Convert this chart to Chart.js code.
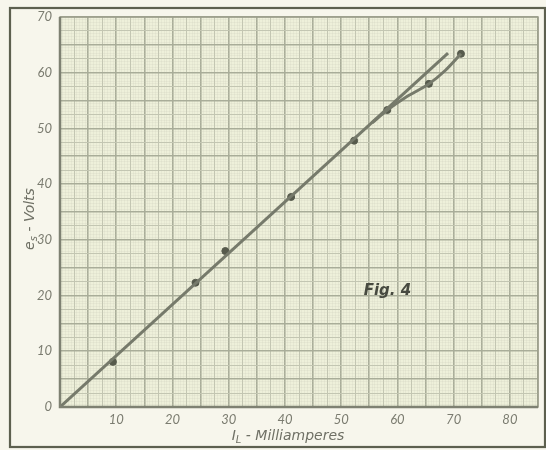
<!DOCTYPE html>
<html>
<head>
<meta charset="utf-8">
<script src="https://cdn.jsdelivr.net/npm/chart.js@4/dist/chart.umd.min.js"></script>
<style>
html,body{margin:0;padding:0;background:#f7f6ec;}
#wrap{width:546px;height:450px;position:relative;}
</style>
</head>
<body>
<div id="wrap"><canvas id="c" width="546" height="450"></canvas></div>
<script>
// Measured points (I_L mA, e_s V)
const pointX = [9.4, 24.1, 29.4, 41.1, 52.3, 58.2, 65.6, 71.3];
const pointY = [8.1, 22.3, 28.0, 37.7, 47.8, 53.3, 58.0, 63.4];
// Straight reference line
const lineX = [0, 69];
const lineY = [0, 63.5];
// Lower curved branch
const branchX = [55.5, 58.2, 61.5, 65.6, 68.5, 71.3];
const branchY = [51.0, 53.3, 55.6, 58.0, 60.4, 63.4];
const xTickLabels = [10, 20, 30, 40, 50, 60, 70, 80];
const yTickLabels = [0, 10, 20, 30, 40, 50, 60, 70];
const xTitle = ['I', 'L', ' - Milliamperes'];
const yTitle = ['e', 's', ' - Volts'];
const figLabel = 'Fig. 4';

const toXY = (xs, ys) => xs.map((x, i) => ({x: x, y: ys[i]}));

const gridColor = (ctx) => {
  const v = ctx.tick ? ctx.tick.value : 0;
  if (Math.abs(v % 5) < 1e-6) return '#a9ad99';
  if (Math.abs(v % 2.5) < 1e-6) return '#c3c6b2';
  return 'rgba(200,202,185,0.2)';
};
const gridWidth = (ctx) => {
  const v = ctx.tick ? ctx.tick.value : 0;
  if (Math.abs(v % 5) < 1e-6) return 1.6;
  return 1;
};

function drawSubTitle(c, parts, cx, cy, size) {
  const main = 'italic ' + size + 'px "DejaVu Sans", sans-serif';
  const sub = 'italic ' + Math.round(size * 0.7) + 'px "DejaVu Sans", sans-serif';
  c.font = main; const w0 = c.measureText(parts[0]).width;
  c.font = sub; const w1 = c.measureText(parts[1]).width;
  c.font = main; const w2 = c.measureText(parts[2]).width;
  let x = cx - (w0 + w1 + w2) / 2;
  c.textBaseline = 'middle';
  c.textAlign = 'left';
  c.font = main; c.fillText(parts[0], x, cy); x += w0;
  c.font = sub; c.fillText(parts[1], x, cy + size * 0.3); x += w1;
  c.font = main; c.fillText(parts[2], x, cy);
}

const bgPlugin = {
  id: 'bg',
  beforeDraw(chart) {
    const c = chart.ctx, a = chart.chartArea;
    c.save();
    c.fillStyle = '#f7f6ec';
    c.fillRect(0, 0, chart.width, chart.height);
    c.fillStyle = '#eef0da';
    c.fillRect(a.left, a.top, a.right - a.left, a.bottom - a.top);
    c.strokeStyle = '#5d604f';
    c.lineWidth = 2.2;
    c.strokeRect(10, 8, 535, 439);
    c.restore();
  },
  afterDatasetsDraw(chart) {
    const c = chart.ctx, a = chart.chartArea;
    c.save();
    c.strokeStyle = '#9a9d8a';
    c.lineWidth = 1.5;
    c.strokeRect(a.left, a.top, a.right - a.left, a.bottom - a.top);
    c.strokeStyle = '#7e8172';
    c.lineWidth = 2.5;
    c.beginPath();
    c.moveTo(a.left, a.top); c.lineTo(a.left, a.bottom); c.lineTo(a.right, a.bottom);
    c.stroke();
    const xs = chart.scales.x, ys = chart.scales.y;
    c.fillStyle = '#474a40';
    c.font = 'italic bold 15px "DejaVu Sans", sans-serif';
    c.textAlign = 'left';
    c.textBaseline = 'middle';
    c.fillText(figLabel, xs.getPixelForValue(54.0), ys.getPixelForValue(20.8));
    // axis titles
    c.fillStyle = '#6f7065';
    drawSubTitle(c, xTitle, (a.left + a.right) / 2 - 11, 436, 14);
    c.translate(30, (a.top + a.bottom) / 2 + 7);
    c.rotate(-Math.PI / 2);
    drawSubTitle(c, yTitle, 0, 0, 14);
    c.restore();
  }
};

const tickFont = {family: 'Lato, "DejaVu Sans", sans-serif', size: 13, style: 'italic'};

new Chart(document.getElementById('c'), {
  type: 'scatter',
  data: {
    datasets: [
      {
        type: 'line',
        data: toXY(lineX, lineY),
        borderColor: '#767a6b',
        borderWidth: 3,
        pointRadius: 0,
        fill: false
      },
      {
        type: 'line',
        data: toXY(branchX, branchY),
        borderColor: '#767a6b',
        borderWidth: 3,
        pointRadius: 0,
        tension: 0.4,
        cubicInterpolationMode: 'monotone',
        fill: false
      },
      {
        data: toXY(pointX, pointY),
        backgroundColor: '#565a4c',
        borderColor: '#565a4c',
        pointRadius: 3.5,
        pointHoverRadius: 3.5
      }
    ]
  },
  options: {
    responsive: false,
    animation: false,
    events: [],
    layout: {padding: {left: 0, right: 8, top: 17, bottom: 0}},
    plugins: {legend: {display: false}, tooltip: {enabled: false}},
    scales: {
      x: {
        type: 'linear',
        min: 0, max: 85,
        afterFit(s) { s.height = 43; },
        border: {display: false},
        grid: {color: gridColor, lineWidth: gridWidth, drawTicks: false},
        ticks: {
          stepSize: 0.5,
          autoSkip: false,
          maxRotation: 0,
          padding: 5,
          color: '#7b7c70',
          font: tickFont,
          callback: (v) => xTickLabels.includes(v) ? String(v) : ''
        }
      },
      y: {
        type: 'linear',
        min: 0, max: 70,
        afterFit(s) { s.width = 60; },
        border: {display: false},
        grid: {color: gridColor, lineWidth: gridWidth, drawTicks: false},
        ticks: {
          stepSize: 0.5,
          autoSkip: false,
          padding: 8,
          color: '#7b7c70',
          font: tickFont,
          callback: (v) => yTickLabels.includes(v) ? String(v) : ''
        }
      }
    }
  },
  plugins: [bgPlugin]
});
</script>
</body>
</html>
